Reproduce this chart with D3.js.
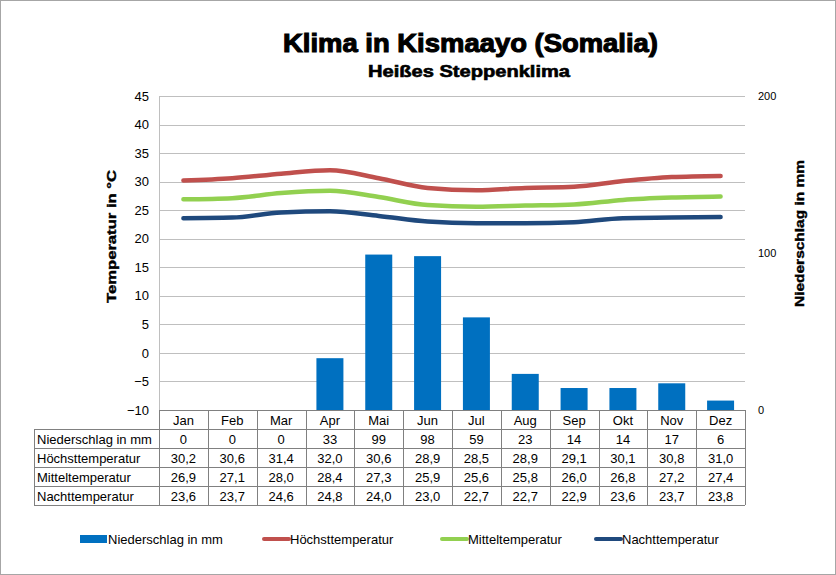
<!DOCTYPE html>
<html>
<head>
<meta charset="utf-8">
<script src="https://cdn.jsdelivr.net/npm/d3@7"></script>
<style>
  body { margin: 0; background: #fff; }
  svg { display: block; font-family: "Liberation Sans", Arial, sans-serif; }
</style>
</head>
<body>
<div id="chart"></div>
<script>
const months = ['Jan', 'Feb', 'Mar', 'Apr', 'Mai', 'Jun', 'Jul', 'Aug', 'Sep', 'Okt', 'Nov', 'Dez']
const niederschlag = [0, 0, 0, 33, 99, 98, 59, 23, 14, 14, 17, 6]
const hoechst = [30.2, 30.6, 31.4, 32.0, 30.6, 28.9, 28.5, 28.9, 29.1, 30.1, 30.8, 31.0]
const mittel = [26.9, 27.1, 28.0, 28.4, 27.3, 25.9, 25.6, 25.8, 26.0, 26.8, 27.2, 27.4]
const nacht = [23.6, 23.7, 24.6, 24.8, 24.0, 23.0, 22.7, 22.7, 22.9, 23.6, 23.7, 23.8]
const tempTicks = [-10, -5, 0, 5, 10, 15, 20, 25, 30, 35, 40, 45]
const rainTicks = [0, 100, 200]

const series = [
  { name: 'Höchsttemperatur', values: hoechst, color: '#c0504d' },
  { name: 'Mitteltemperatur', values: mittel, color: '#92d050' },
  { name: 'Nachttemperatur', values: nacht, color: '#1f497d' }
]
const barColor = '#0070c0'

const width = 836, height = 575
const plot = { left: 159, right: 745, top: 96, bottom: 410 }

const svg = d3.select('#chart').append('svg')
  .attr('width', width).attr('height', height)

svg.append('rect').attr('x', 0.5).attr('y', 0.5).attr('width', width - 1).attr('height', height - 1)
  .attr('fill', '#fff').attr('stroke', '#a6a6a6')

// heavy, wide titles (Arial Black look)
function heavyText(sel, size, len, sw) {
  return sel.style('font-size', size + 'px').style('font-weight', 'bold')
    .attr('textLength', len).attr('lengthAdjust', 'spacingAndGlyphs')
    .attr('stroke', '#000').attr('stroke-width', sw)
}
heavyText(svg.append('text').attr('x', 283).attr('y', 52), 26, 375, 1.1).text('Klima in Kismaayo (Somalia)')
heavyText(svg.append('text').attr('x', 368).attr('y', 77), 16, 202, 0.6).text('Heißes Steppenklima')

const x = d3.scaleBand().domain(months).range([plot.left, plot.right])
const yT = d3.scaleLinear().domain([-10, 45]).range([plot.bottom, plot.top])
const yR = d3.scaleLinear().domain([0, 200]).range([plot.bottom, plot.top])

// gridlines
svg.append('g').selectAll('line').data(tempTicks).join('line')
  .attr('x1', plot.left).attr('x2', plot.right)
  .attr('y1', d => Math.round(yT(d)) + 0.5).attr('y2', d => Math.round(yT(d)) + 0.5)
  .attr('stroke', '#bfbfbf')
svg.append('line').attr('x1', plot.left + 0.5).attr('x2', plot.left + 0.5)
  .attr('y1', plot.top).attr('y2', plot.bottom).attr('stroke', '#bfbfbf')

// left axis
const axL = svg.append('g').attr('transform', `translate(${plot.left},0)`)
  .call(d3.axisLeft(yT).tickValues(tempTicks).tickSize(0).tickPadding(10))
axL.select('.domain').remove()
axL.selectAll('text').style('font-size', '13px').style('font-family', '"Liberation Sans", Arial, sans-serif').attr('fill', '#000')

// right axis
const axR = svg.append('g').attr('transform', `translate(${plot.right},0)`)
  .call(d3.axisRight(yR).tickValues(rainTicks).tickSize(0).tickPadding(13))
axR.select('.domain').remove()
axR.selectAll('text').style('font-size', '11px').style('font-family', '"Liberation Sans", Arial, sans-serif').attr('fill', '#000')

heavyText(svg.append('text').attr('transform', 'translate(116,303) rotate(-90)'), 13, 133, 0.4).text('Temperatur in °C')
heavyText(svg.append('text').attr('transform', 'translate(804,307) rotate(-90)'), 13, 147, 0.4).text('Niederschlag in mm')

// bars
const barW = 27
svg.append('g').selectAll('rect').data(niederschlag).join('rect')
  .attr('x', (d, i) => x(months[i]) + x.bandwidth() / 2 - barW / 2)
  .attr('width', barW)
  .attr('y', d => yR(d))
  .attr('height', d => yR(0) - yR(d))
  .attr('fill', barColor)

// lines
const line = d3.line()
  .x((d, i) => x(months[i]) + x.bandwidth() / 2)
  .y(d => yT(d))
  .curve(d3.curveMonotoneX)
series.forEach(s => {
  svg.append('path').datum(s.values).attr('d', line)
    .attr('fill', 'none').attr('stroke', s.color).attr('stroke-width', 4.5).attr('stroke-linecap', 'round')
})

// data table
const rowH = 19
const tableLeft = 34
const rows = [
  { label: 'Niederschlag in mm', values: niederschlag.map(String) },
  ...series.map(s => ({ label: s.name, values: s.values.map(v => v.toFixed(1).replace('.', ',')) }))
]
const tbl = svg.append('g').style('font-size', '13px')
const gridColor = '#808080'
// header row
months.forEach((m, i) => {
  tbl.append('text').attr('x', x(m) + x.bandwidth() / 2).attr('y', plot.bottom + 15)
    .attr('text-anchor', 'middle').text(m)
})
rows.forEach((r, ri) => {
  const y0 = plot.bottom + rowH * (ri + 1)
  tbl.append('text').attr('x', tableLeft + 3).attr('y', y0 + 15).text(r.label)
  r.values.forEach((v, i) => {
    tbl.append('text').attr('x', x(months[i]) + x.bandwidth() / 2).attr('y', y0 + 15)
      .attr('text-anchor', 'middle').text(v)
  })
})
// horizontal table lines
tbl.append('line').attr('x1', plot.left).attr('x2', plot.right)
  .attr('y1', plot.bottom + 0.5).attr('y2', plot.bottom + 0.5).attr('stroke', gridColor)
d3.range(1, rows.length + 2).forEach(k => {
  const yy = plot.bottom + rowH * k + 0.5
  tbl.append('line').attr('x1', tableLeft).attr('x2', plot.right)
    .attr('y1', yy).attr('y2', yy).attr('stroke', gridColor)
})
// vertical table lines
const bottomY = plot.bottom + rowH * (rows.length + 1)
tbl.append('line').attr('x1', tableLeft + 0.5).attr('x2', tableLeft + 0.5)
  .attr('y1', plot.bottom + rowH).attr('y2', bottomY).attr('stroke', gridColor)
months.forEach((m, i) => {
  const xx = Math.round(x(m)) + 0.5
  tbl.append('line').attr('x1', xx).attr('x2', xx)
    .attr('y1', plot.bottom).attr('y2', bottomY).attr('stroke', gridColor)
})
tbl.append('line').attr('x1', plot.right + 0.5).attr('x2', plot.right + 0.5)
  .attr('y1', plot.bottom).attr('y2', bottomY).attr('stroke', gridColor)

// legend
const legendItems = [
  { name: 'Niederschlag in mm', color: barColor, bar: true, x: 80 },
  { name: series[0].name, color: series[0].color, x: 262 },
  { name: series[1].name, color: series[1].color, x: 440 },
  { name: series[2].name, color: series[2].color, x: 594 }
]
const legend = svg.append('g').style('font-family', '"Liberation Sans Narrow", "Arial Narrow", sans-serif').style('font-size', '13px')
legendItems.forEach(d => {
  if (d.bar) {
    legend.append('rect').attr('x', d.x).attr('y', 535).attr('width', 27).attr('height', 8).attr('fill', d.color)
  } else {
    legend.append('line').attr('x1', d.x + 2).attr('x2', d.x + 27).attr('y1', 539).attr('y2', 539)
      .attr('stroke', d.color).attr('stroke-width', 4).attr('stroke-linecap', 'round')
  }
  legend.append('text').attr('x', d.x + 28).attr('y', 544).text(d.name)
})
</script>
</body>
</html>
